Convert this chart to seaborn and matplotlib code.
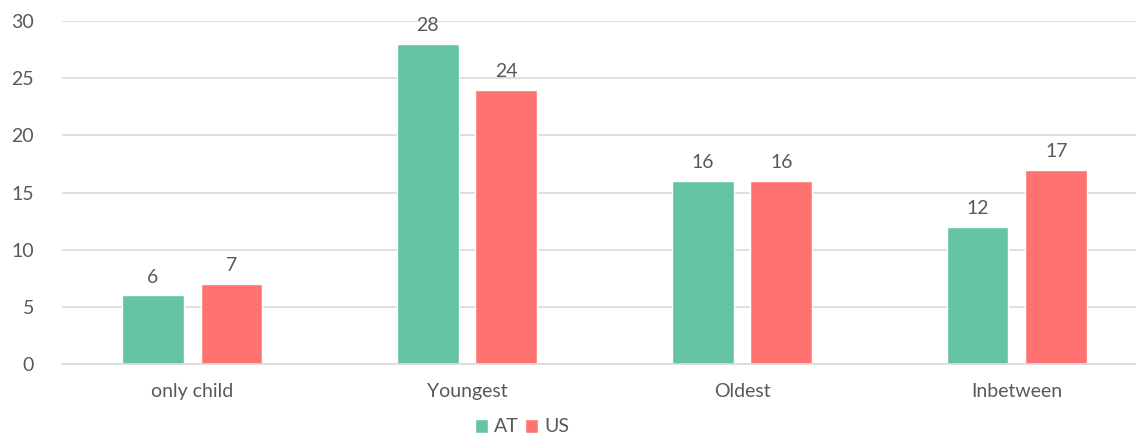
import matplotlib
matplotlib.use("Agg")
import matplotlib.pyplot as plt
import seaborn as sns
import pandas as pd

categories = ["only child", "Youngest", "Oldest", "Inbetween"]
at_values = [6, 28, 16, 12]
us_values = [7, 24, 16, 17]
series_names = ["AT", "US"]
y_ticks = [0, 5, 10, 15, 20, 25, 30]

colors = {"AT": "#64C3A5", "US": "#FF7272"}
text_color = "#595959"
grid_color = "#D9D9D9"

df = pd.DataFrame({
    "category": categories * 2,
    "series": [series_names[0]] * len(categories) + [series_names[1]] * len(categories),
    "value": at_values + us_values,
})

sns.set_theme(style="white")
plt.rcParams["font.family"] = ["Lato", "DejaVu Sans"]

W, H = 1136, 438
fig = plt.figure(figsize=(W / 100, H / 100), dpi=100)
ax = fig.add_axes([62 / W, (H - 364) / H, 1 - 62 / W, (364 - 21) / H])

sns.barplot(data=df, x="category", y="value", hue="series", order=categories,
            hue_order=series_names, palette=colors, width=0.572, gap=0.215,
            saturation=1, ax=ax, legend=True)

ax.set_xlim(-0.473, 3.433)
ax.set_ylim(0, 30)
ax.set_yticks(y_ticks)
ax.set_xlabel("")
ax.set_ylabel("")
ax.yaxis.grid(True, color=grid_color, linewidth=1.2)
ax.set_axisbelow(True)
for side in ["top", "right", "left"]:
    ax.spines[side].set_visible(False)
ax.spines["bottom"].set_color(grid_color)
ax.spines["bottom"].set_linewidth(1.2)
ax.tick_params(axis="y", length=0, pad=20, labelsize=14, labelcolor=text_color)
ax.tick_params(axis="x", length=0, pad=14, labelsize=14, labelcolor=text_color)

for container in ax.containers:
    ax.bar_label(container, fmt="%g", padding=7, fontsize=14, color=text_color)

handles, labels = ax.get_legend_handles_labels()
ax.get_legend().remove()
fig.legend(handles, labels, loc="center", bbox_to_anchor=(522 / W, (H - 427) / H),
           ncol=2, frameon=False, fontsize=14, labelcolor=text_color,
           handlelength=0.7, handleheight=0.7, handletextpad=0.3, columnspacing=0.3)

fig.savefig("out.png", dpi=100)
